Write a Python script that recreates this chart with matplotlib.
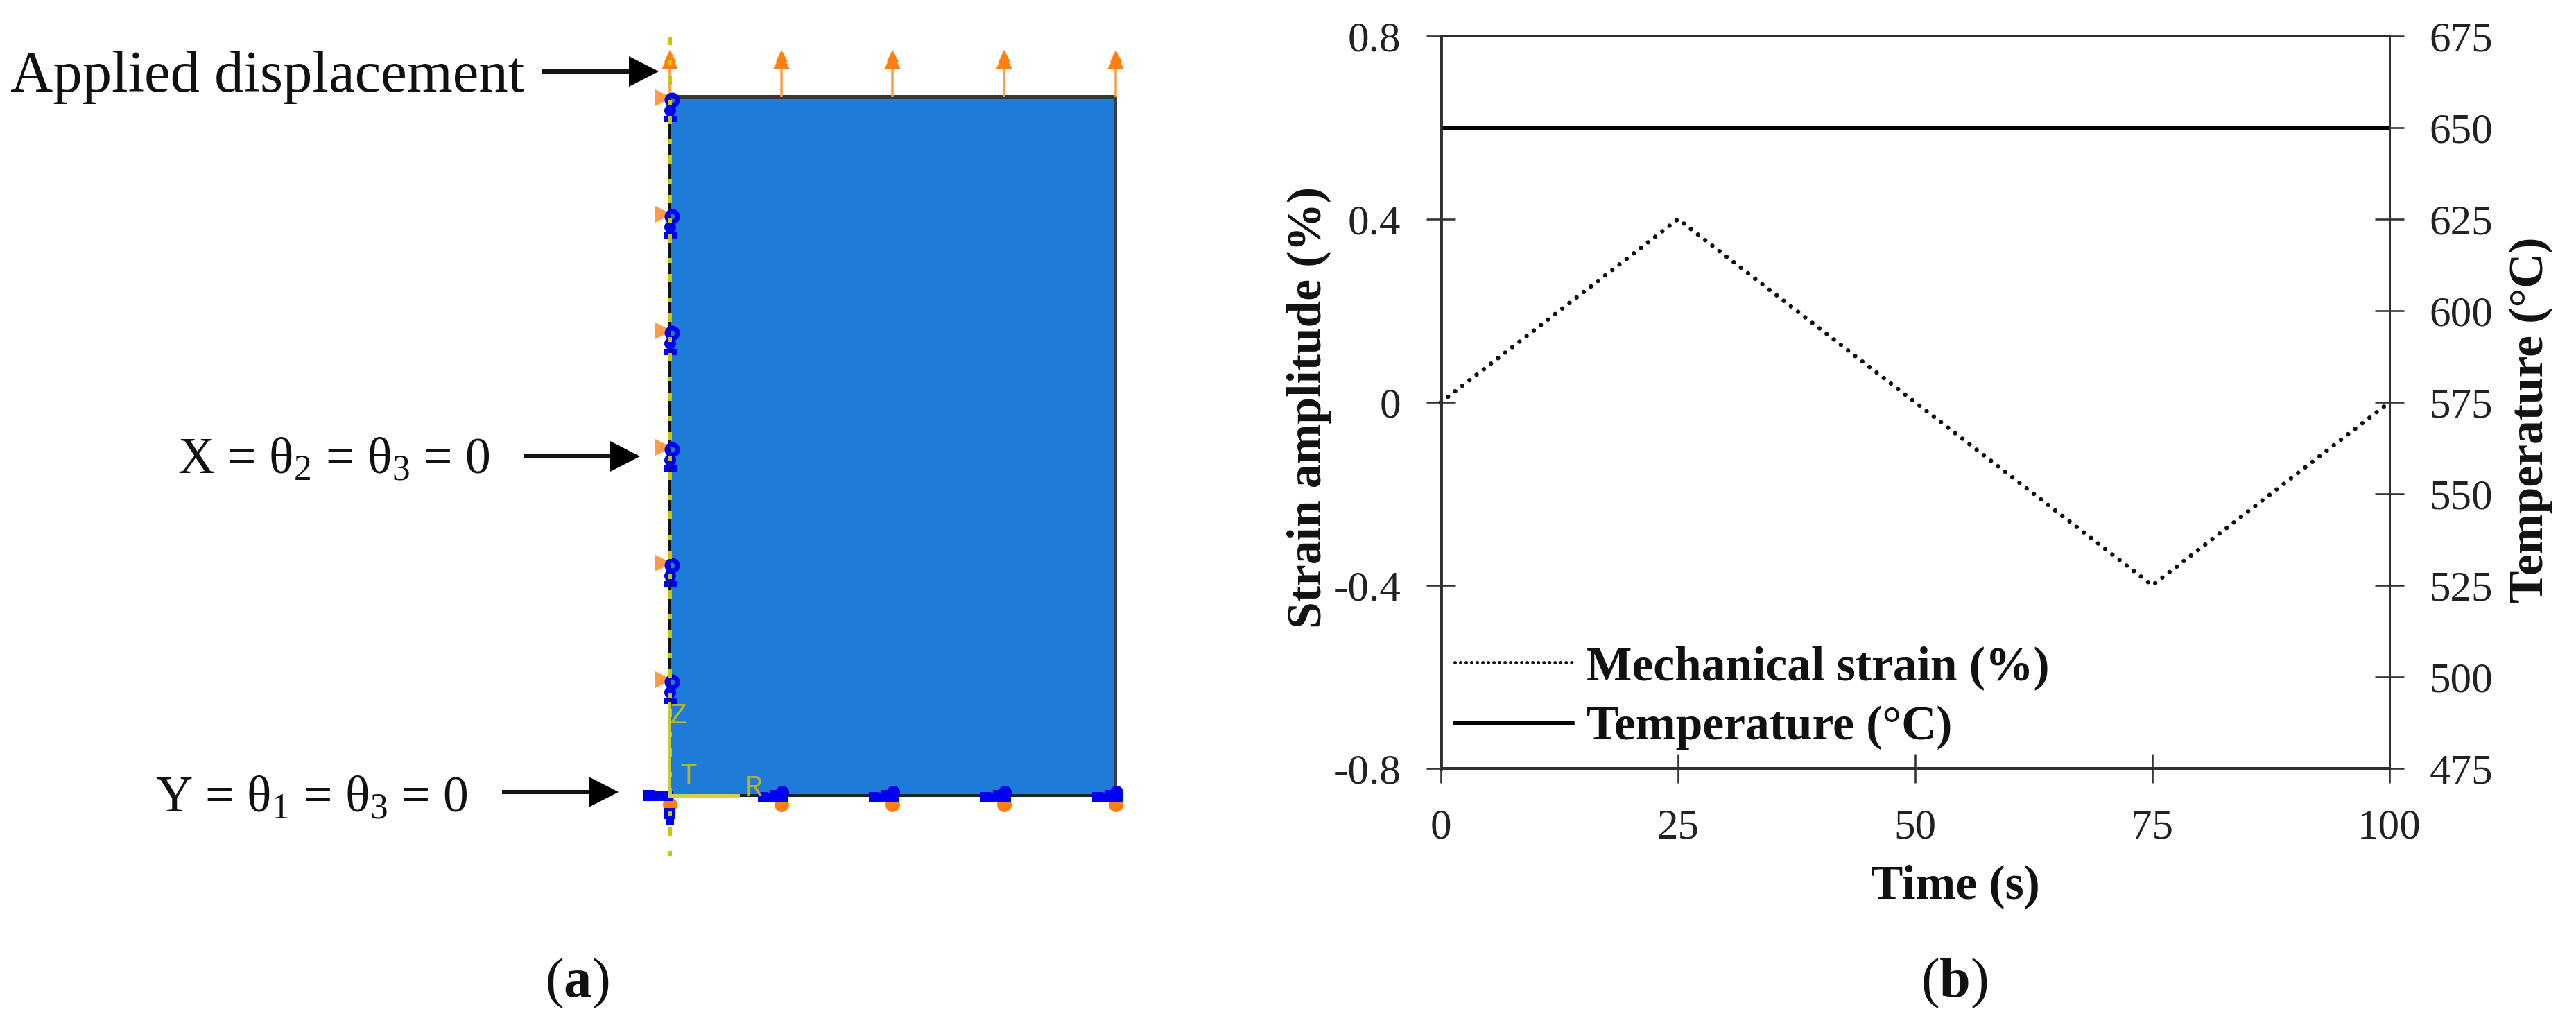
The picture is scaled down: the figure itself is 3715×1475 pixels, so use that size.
import matplotlib
matplotlib.use("Agg")
import matplotlib.pyplot as plt
from matplotlib.lines import Line2D
from matplotlib.patches import Polygon, Rectangle
from matplotlib.transforms import ScaledTranslation

plt.rcParams.update({
    'font.family': ['Liberation Serif', 'DejaVu Serif'],
    'mathtext.fontset': 'custom',
    'mathtext.rm': 'Liberation Serif',
    'mathtext.bf': 'Liberation Serif:bold',
    'mathtext.default': 'regular',
    'lines.scale_dashes': False,
})

# ---------- data, panel (b) ----------
time_s = [0, 25, 75, 100]
strain_pct = [0, 0.4, -0.4, 0]
time_temp_s = [0, 100]
temperature_c = [650, 650]
x_ticks = [0, 25, 50, 75, 100]
x_ticklabels = ['0', '25', '50', '75', '100']
strain_ticks = [-0.8, -0.4, 0, 0.4, 0.8]
strain_ticklabels = ['-0.8', '-0.4', '0', '0.4', '0.8']
temp_ticks = [475, 500, 525, 550, 575, 600, 625, 650, 675]
temp_ticklabels = ['475', '500', '525', '550', '575', '600', '625', '650', '675']

# ---------- data, panel (a): model nodes ----------
r_nodes = [0, 1, 2, 3, 4]
z_nodes = [0, 1, 2, 3, 4, 5, 6]
load_tip = 6.39
axis_z = [6.52, -0.596]

W, H = 3716, 1475
P = 0.72  # points per output pixel at dpi=100
fig = plt.figure(figsize=(W / 100, H / 100), dpi=100, facecolor='white')


def rect_from_px(l, t, r, b):
    return [l / W, 1 - b / H, (r - l) / W, (b - t) / H]


# ---------- panel (a) ----------
a = fig.add_axes(rect_from_px(966, 140, 1609, 1147))
a.set_xlim(0, 4)
a.set_ylim(0, 6)
a.axis('off')
BLUE, ORANGE, ORANGE_L, YEL = '#0000f0', '#ff7f10', '#ff9a4a', '#c8c800'


def off(dx, dy):
    return a.transData + ScaledTranslation(dx / 100, -dy / 100, fig.dpi_scale_trans)


def mark(xs, ys, dx, dy, marker, size, color, z, **kw):
    a.plot(xs, ys, ls='none', marker=marker, ms=size * P, color=color, mew=kw.pop('mew', 0),
           transform=off(dx, dy), zorder=z, clip_on=False, **kw)


a.add_patch(Rectangle((0, 0), 4, 6, fc='#1f7bd8', ec='none', zorder=1))
a.plot([0, 4], [6, 6], color='#33383e', lw=6 * P, zorder=2, clip_on=False, solid_capstyle='butt')
a.plot([4, 4], [0, 6], color='#3a3f46', lw=4 * P, zorder=2, clip_on=False)
a.plot([0, 4], [0, 0], color='#1a2228', lw=4 * P, zorder=2, clip_on=False)
a.plot([0, 0], [0, 6], color='#101418', lw=4 * P, zorder=2, clip_on=False)

# applied displacement arrows
a.vlines(r_nodes, 6, load_tip - 0.05, color=ORANGE_L, lw=3.5 * P, zorder=3, clip_on=False)
tops = [load_tip] * len(r_nodes)
mark(r_nodes, tops, 0, 13, '^', 24, ORANGE, 4)
mark(r_nodes, tops, 0, 5, '^', 17, ORANGE, 4)

# left edge constraints
zeros_z = [0] * len(z_nodes)
mark(zeros_z[1:], z_nodes[1:], -9, 1, '>', 24, ORANGE_L, 3)
mark(zeros_z[1:], z_nodes[1:], 3, 4, 'o', 15, 'none', 5, mec=BLUE, mew=7 * P)
mark(zeros_z[1:], z_nodes[1:], 0, 19, 'o', 17, BLUE, 5)
mark(zeros_z[1:], z_nodes[1:], -5, 31, 's', 9, BLUE, 5)
mark(zeros_z[1:], z_nodes[1:], 5, 31, 's', 9, BLUE, 5)

# bottom edge constraints
zeros_r = [0] * len(r_nodes)
mark(r_nodes, zeros_r, 0, 13, 'o', 21, ORANGE, 3)
for dx, dy, s, mk in [(-27, 2, 15, 's'), (-17, 3, 13, 's'), (-8, 0, 17, 's'), (1, -5, 19, 'o'), (2, 2, 15, 's')]:
    mark(r_nodes[1:], zeros_r[1:], dx, dy, mk, s, BLUE, 5)
for dx, dy, s in [(-30, 0, 16), (-21, 1, 14), (-12, 1, 14), (-4, 0, 15)]:
    mark([0], [0], dx, dy, 's', s, BLUE, 5)
mark([0], [0], 0, 26, 's', 16, BLUE, 5)
mark([0], [0], 0, 36, 's', 12, BLUE, 5)

# symmetry axis and triad
a.plot([0, 0], axis_z, color=YEL, lw=6 * P, zorder=6, clip_on=False, solid_capstyle='butt',
       dashes=(12 * P, 22 * P, 7 * P, 16 * P), dash_capstyle='butt')
a.plot([0, 0], [0, 0.79], color='#c9c93a', lw=4 * P, zorder=6, clip_on=False)
a.plot([0, 0.61], [0, 0], color='#d0d050', lw=5 * P, zorder=6, clip_on=False)

# annotation layer in figure pixels
o = fig.add_axes([0, 0, 1, 1])
o.set_xlim(0, W)
o.set_ylim(H, 0)
o.axis('off')
o.patch.set_alpha(0)


def arrow(x0, x_head, x_tip, y):
    o.plot([x0, x_head + 4], [y, y], color='#151515', lw=6 * P, solid_capstyle='butt', zorder=3)
    o.add_patch(Polygon([[x_head, y - 22], [x_tip, y], [x_head, y + 22]], fc='black', ec='none', zorder=3))


arrow(781, 907, 950, 103)
arrow(755, 880, 923, 658)
arrow(724, 849, 892, 1142)

tk = dict(color='#111111', va='baseline', ha='left')
o.text(15, 132, 'Applied displacement', fontsize=61, **tk)
o.text(256, 682, 'X = θ$_{2}$ = θ$_{3}$ = 0', fontsize=53, **tk)
o.text(224, 1170, 'Y = θ$_{1}$ = θ$_{3}$ = 0', fontsize=53, **tk)
o.text(832, 1437, r'($\mathbf{a}$)', fontsize=58, color='#111111', ha='center', va='baseline')
o.text(2818, 1437, r'($\mathbf{b}$)', fontsize=58, color='#111111', ha='center', va='baseline')
yk = dict(color='#b4b428', family='Liberation Mono', fontsize=30, ha='center', va='baseline', zorder=8)
o.text(978, 1043, 'Z', **yk)
o.text(993, 1130, 'T', **yk)
o.text(1087, 1147, 'R', **yk)

# ---------- panel (b) ----------
ax = fig.add_axes(rect_from_px(2078, 52, 3446, 1108))
ax2 = ax.twinx()
ax.set_xlim(0, 100)
ax.set_ylim(-0.8, 0.8)
ax2.set_ylim(475, 675)

DOT = (0, (0.01, 13 * P))
l1, = ax.plot(time_s, strain_pct, color='#111111', lw=6.5 * P, ls=DOT, dash_capstyle='round',
              clip_on=False, label='Mechanical strain (%)')
l2, = ax2.plot(time_temp_s, temperature_c, color='black', lw=5 * P, label='Temperature (°C)')

ax.set_xticks(x_ticks, x_ticklabels)
ax.set_yticks(strain_ticks, strain_ticklabels)
ax2.set_yticks(temp_ticks, temp_ticklabels)
tick_kw = dict(direction='inout', length=43 * P, width=2.6 * P, color='#333333', labelsize=44,
               labelcolor='#222222', pad=26)
ax.tick_params(axis='x', **tick_kw)
ax.tick_params(axis='y', **tick_kw)
ax2.tick_params(axis='y', **tick_kw)
for axis_ in (ax, ax2):
    for s in axis_.spines.values():
        s.set_color('#303030')
        s.set_linewidth(3 * P)
    axis_.spines['left'].set_linewidth(4.5 * P)
    axis_.spines['bottom'].set_linewidth(4 * P)

lab = dict(fontweight='bold', color='#111111')
o.text(1888, 588, 'Strain amplitude (%)', rotation=90, ha='center', va='center', fontsize=50, **lab)
o.text(3650, 605, 'Temperature (°C)', rotation=90, ha='center', va='center', fontsize=50, **lab)
o.text(2820, 1295, 'Time (s)', ha='center', va='baseline', fontsize=50, **lab)

h1 = Line2D([], [], color='#111111', lw=5 * P, ls=(0, (0.01, 8 * P)), dash_capstyle='round')
h2 = Line2D([], [], color='black', lw=6.5 * P)
leg = ax.legend([h1, h2], [l1.get_label(), l2.get_label()], loc='lower left',
                bbox_to_anchor=(2098 / W, 1 - 1081 / H), bbox_transform=fig.transFigure,
                frameon=False, borderpad=0, borderaxespad=0, handlelength=2.43, handletextpad=0.3,
                labelspacing=0.32, prop={'family': 'Liberation Serif', 'weight': 'bold', 'size': 50})
for t in leg.get_texts():
    t.set_color('#111111')

fig.savefig('out.png', dpi=100, facecolor='white')
